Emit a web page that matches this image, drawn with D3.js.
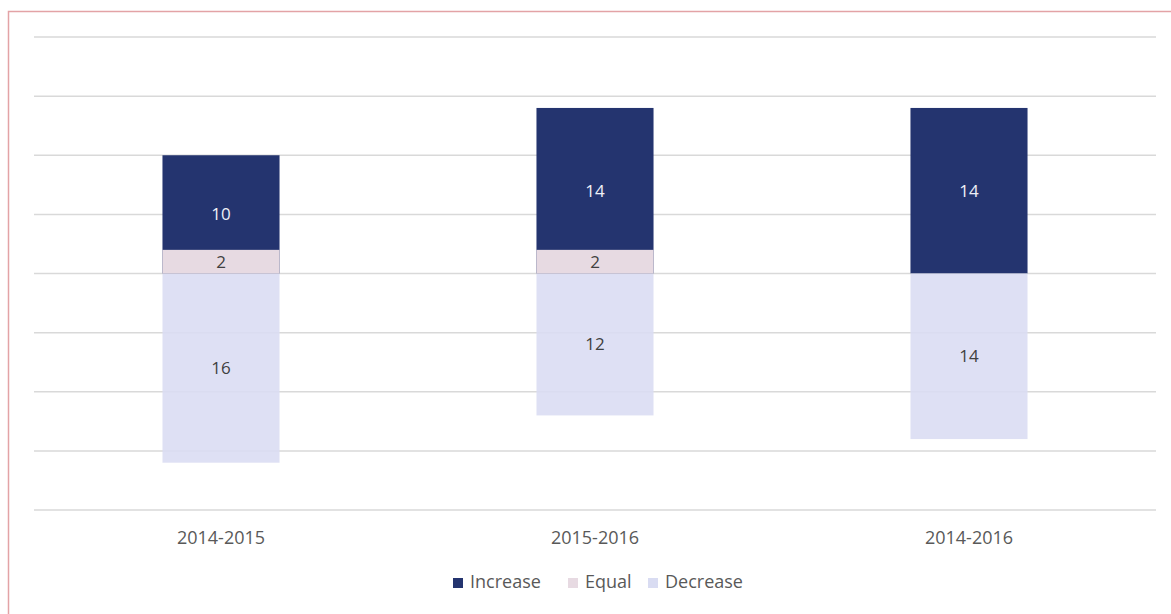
<!DOCTYPE html>
<html>
<head>
<meta charset="utf-8">
<script src="https://cdn.jsdelivr.net/npm/d3@7"></script>
<style>
  body { margin: 0; background: #fff; }
  text { font-family: "Open Sans", sans-serif; }
</style>
</head>
<body>
<svg id="chart"></svg>
<script>
// Chart data
var periods = ["2014-2015", "2015-2016", "2014-2016"];
var increase = [10, 14, 14];
var equal = [2, 2, 0];
var decrease = [16, 12, 14];
var seriesNames = ["Increase", "Equal", "Decrease"];
var seriesColors = ["#24346f", "#e7dae2", "#d9dcf2"];
var yTicks = [-20, -15, -10, -5, 0, 5, 10, 15, 20];

// SVG size params
var width = 1171;
var height = 614;
var plot = {left: 34, right: 1156, top: 37, bottom: 510};

var svg = d3.select("#chart")
    .attr("width", width)
    .attr("height", height);

// Scales
var x = d3.scaleBand()
    .domain(periods)
    .range([plot.left, plot.right])
    .paddingInner(0.687)
    .paddingOuter(0.3435);

var y = d3.scaleLinear()
    .domain([-20, 20])
    .range([plot.bottom, plot.top]);

// Outer border (only top and left visible)
svg.append("path")
    .attr("d", "M8.5," + height + "V11.5H" + width)
    .attr("fill", "none")
    .attr("stroke", "#e3a3a6")
    .attr("stroke-width", 1.5);

// Gridlines
svg.append("g")
  .selectAll("line")
  .data(yTicks)
  .enter().append("line")
    .attr("x1", plot.left)
    .attr("x2", plot.right)
    .attr("y1", function(d) { return y(d); })
    .attr("y2", function(d) { return y(d); })
    .attr("stroke", "#d9d9d9")
    .attr("stroke-width", 1.5);

// Bars all start from zero and overlap; Equal is drawn over Increase
var rows = periods.map(function(p, i) {
  return [
    {period: p, key: 0, v: increase[i]},
    {period: p, key: 2, v: -decrease[i]},
    {period: p, key: 1, v: equal[i]}
  ];
});
var bars = d3.merge(rows).filter(function(d) { return d.v !== 0; });

svg.append("g")
  .selectAll("rect")
  .data(bars)
  .enter().append("rect")
    .attr("x", function(d) { return x(d.period); })
    .attr("width", x.bandwidth())
    .attr("y", function(d) { return y(Math.max(0, d.v)); })
    .attr("height", function(d) { return Math.abs(y(d.v) - y(0)); })
    .attr("fill", function(d) { return seriesColors[d.key]; })
    .attr("fill-opacity", function(d) { return d.key == 2 ? 0.88 : 1; });

// Data labels, centred on each full bar
svg.append("g")
  .selectAll("text")
  .data(bars)
  .enter().append("text")
    .attr("x", function(d) { return x(d.period) + x.bandwidth() / 2; })
    .attr("y", function(d) { return (y(d.v) + y(0)) / 2; })
    .attr("dy", "0.35em")
    .attr("text-anchor", "middle")
    .attr("font-size", 17)
    .attr("fill", function(d) { return d.key == 0 ? "#eef0f6" : "#404040"; })
    .text(function(d) { return Math.abs(d.v); });

// Category labels
svg.append("g")
  .selectAll("text")
  .data(periods)
  .enter().append("text")
    .attr("x", function(d) { return x(d) + x.bandwidth() / 2; })
    .attr("y", 544)
    .attr("text-anchor", "middle")
    .attr("font-size", 18)
    .attr("fill", "#595959")
    .text(function(d) { return d; });

// Legend
var legendX = [453, 568, 648];
var legend = svg.append("g")
  .selectAll("g")
  .data(seriesNames)
  .enter().append("g")
    .attr("transform", function(d, i) { return "translate(" + legendX[i] + ",578)"; });

legend.append("rect")
    .attr("width", 10)
    .attr("height", 10)
    .attr("fill", function(d, i) { return seriesColors[i]; });

legend.append("text")
    .attr("x", 17)
    .attr("y", 10)
    .attr("font-size", 18)
    .attr("fill", "#595959")
    .text(function(d) { return d; });
</script>
</body>
</html>
